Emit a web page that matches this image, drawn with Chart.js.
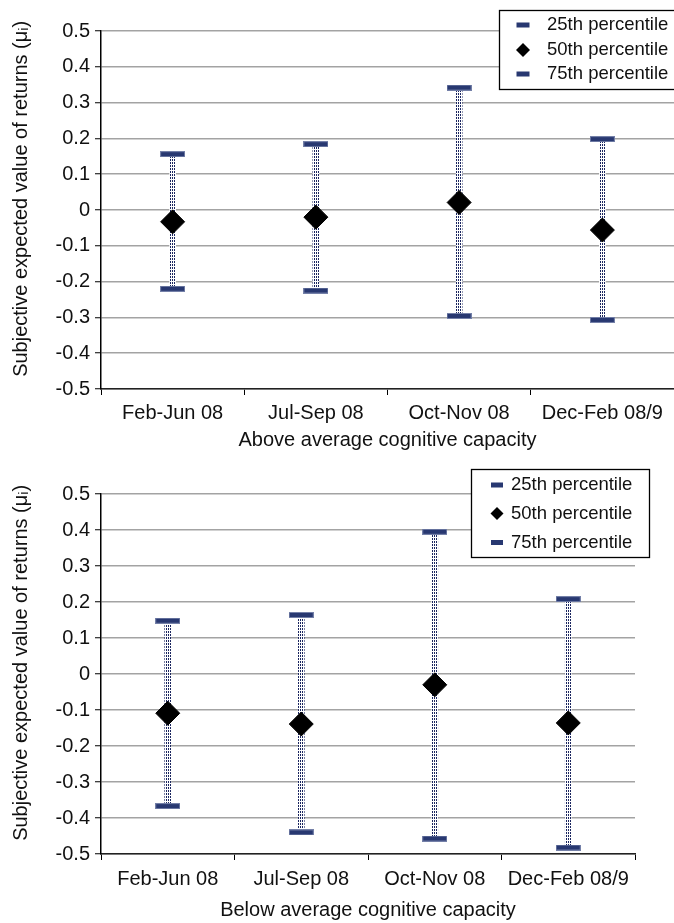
<!DOCTYPE html>
<html><head><meta charset="utf-8">
<script src="https://cdn.jsdelivr.net/npm/chart.js@4/dist/chart.umd.min.js"></script>
<style>
html,body{margin:0;padding:0;background:#fff;width:674px;height:923px;overflow:hidden}
canvas{position:absolute;left:0}
#c1{top:0}
#c2{top:460px}
</style></head><body>
<canvas id="c1" width="674" height="462"></canvas>
<canvas id="c2" width="674" height="463"></canvas>
<script>
// ---- data ----
const categories = ['Feb-Jun 08', 'Jul-Sep 08', 'Oct-Nov 08', 'Dec-Feb 08/9'];
const seriesNames = ['25th percentile', '50th percentile', '75th percentile'];
const yTickValues = [-0.5, -0.4, -0.3, -0.2, -0.1, 0, 0.1, 0.2, 0.3, 0.4, 0.5];
const yTickLabels = ['-0.5', '-0.4', '-0.3', '-0.2', '-0.1', '0', '0.1', '0.2', '0.3', '0.4', '0.5'];
const yAxisTitle = '    Subjective expected value of returns (\u03bc\u1d62)';

const aboveTitle = 'Above average cognitive capacity';
const above25 = [-0.220, -0.225, -0.296, -0.307];
const above50 = [-0.033, -0.020, 0.021, -0.056];
const above75 = [0.156, 0.184, 0.342, 0.198];

const belowTitle = 'Below average cognitive capacity';
const below25 = [-0.367, -0.440, -0.457, -0.482];
const below50 = [-0.109, -0.139, -0.030, -0.136];
const below75 = [0.148, 0.164, 0.395, 0.208];

// ---- styles ----
Chart.defaults.font.family = "'Liberation Sans', Arial, sans-serif";
Chart.defaults.font.size = 20;
Chart.defaults.color = '#111';
Chart.defaults.animation = false;

const NAVY = '#283871';
function markerCanvas(w, h) {
  const c = document.createElement('canvas');
  c.width = w; c.height = h;
  const x = c.getContext('2d');
  x.fillStyle = '#7480a8'; x.fillRect(0, 0, w, h);
  x.fillStyle = NAVY; x.fillRect(1, 1, w - 2, h - 2);
  return c;
}
function hiloPattern() {
  const c = document.createElement('canvas');
  c.width = 2; c.height = 3;
  const x = c.getContext('2d');
  x.fillStyle = '#ffffff'; x.fillRect(0, 0, 2, 3);
  x.fillStyle = '#1c2760'; x.fillRect(0, 0, 1, 2);
  return x.createPattern(c, 'repeat');
}
const bigMarker = markerCanvas(25, 6);
const pattern = hiloPattern();

function makeDatasets(q25, q50, q75) {
  return [
    { type: 'bar', label: 'range', data: q25.map((v, i) => [v, q75[i]]),
      backgroundColor: pattern, borderWidth: 0, barThickness: 6, order: 4 },
    { type: 'line', label: seriesNames[0], data: q25, showLine: false,
      pointStyle: bigMarker, pointRadius: 12, pointHoverRadius: 12, order: 2, legendKind: 'bar', clip: false },
    { type: 'line', label: seriesNames[1], data: q50, showLine: false,
      pointStyle: 'rectRot', pointRadius: 12, pointHoverRadius: 12,
      pointBackgroundColor: '#000', pointBorderColor: '#000', pointBorderWidth: 1, order: 1, legendKind: 'diamond', clip: false },
    { type: 'line', label: seriesNames[2], data: q75, showLine: false,
      pointStyle: bigMarker, pointRadius: 12, pointHoverRadius: 12, order: 2, legendKind: 'bar', clip: false }
  ];
}

const boxLegend = {
  id: 'boxLegend',
  afterDraw(chart, args, o) {
    const ctx = chart.ctx;
    ctx.save();
    ctx.fillStyle = '#fff';
    ctx.fillRect(o.x, o.y, o.w, o.h);
    ctx.strokeStyle = '#000'; ctx.lineWidth = 1.3;
    ctx.strokeRect(o.x + 0.5, o.y + 0.5, o.w, o.h);
    ctx.font = o.fontSize + "px 'Liberation Sans', Arial, sans-serif";
    ctx.textBaseline = 'middle'; ctx.textAlign = 'left'; ctx.fillStyle = '#111';
    const items = chart.data.datasets.filter(d => d.legendKind);
    items.forEach((d, i) => {
      const cy = o.rows[i];
      if (d.legendKind === 'bar') {
        ctx.fillStyle = NAVY;
        ctx.fillRect(o.markerX - o.mw / 2, cy - 2.5, o.mw, 5);
      } else {
        const r = o.dr;
        ctx.fillStyle = '#000';
        ctx.beginPath();
        ctx.moveTo(o.markerX - r, cy); ctx.lineTo(o.markerX, cy - r);
        ctx.lineTo(o.markerX + r, cy); ctx.lineTo(o.markerX, cy + r);
        ctx.closePath(); ctx.fill();
      }
      ctx.fillStyle = '#111';
      ctx.fillText(d.label, o.textX, cy);
    });
    ctx.restore();
  }
};

function makeChart(id, q25, q50, q75, xTitle, layout, legendOpts) {
  return new Chart(document.getElementById(id), {
    type: 'bar',
    data: { labels: categories, datasets: makeDatasets(q25, q50, q75) },
    plugins: [boxLegend],
    options: {
      responsive: false,
      devicePixelRatio: 1,
      layout: { padding: layout.padding, autoPadding: false },
      plugins: { legend: { display: false }, tooltip: { enabled: false }, boxLegend: legendOpts },
      scales: {
        x: {
          type: 'category', offset: true,
          grid: { display: true, drawOnChartArea: false, offset: true, tickLength: 6, color: '#000', lineWidth: 1 },
          border: { display: true, color: '#222', width: 1.5 },
          ticks: { padding: layout.xTickPad, maxRotation: 0, autoSkip: false, color: '#111' },
          title: { display: true, text: xTitle, color: '#111', padding: { top: 4, bottom: layout.xTitlePadBottom } },
          afterFit(s) { s.height = layout.xHeight; s.paddingLeft = 0; s.paddingRight = 0; }
        },
        y: {
          type: 'linear', min: -0.5, max: 0.5,
          afterBuildTicks(s) { s.ticks = yTickValues.map(v => ({ value: v })); },
          ticks: { padding: 5, color: '#111',
            callback: (v) => { const i = yTickValues.findIndex(t => Math.abs(t - v) < 1e-9); return i >= 0 ? yTickLabels[i] : ''; } },
          grid: { color: '#a3a3a3', lineWidth: 1.5, tickColor: '#000', tickLength: 6, tickWidth: 1 },
          border: { display: true, color: '#000', width: 1.5 },
          title: { display: true, text: yAxisTitle, color: '#111', padding: { top: 9, bottom: 0 } },
          afterFit(s) { s.width = 101; }
        }
      }
    }
  });
}

makeChart('c1', above25, above50, above75, aboveTitle,
  { padding: { top: 31, right: 0, bottom: 6, left: 0 }, xHeight: 67, xTickPad: 6, xTitlePadBottom: 4 },
  { x: 499, y: 10, w: 190, h: 79, rows: [25, 50, 74], markerX: 523, textX: 547, mw: 13, dr: 7, fontSize: 18.5 });

makeChart('c2', below25, below50, below75, belowTitle,
  { padding: { top: 34, right: 39, bottom: 0, left: 0 }, xHeight: 69, xTickPad: 7, xTitlePadBottom: 1 },
  { x: 471, y: 9, w: 178, h: 88, rows: [25, 53.5, 82.5], markerX: 497, textX: 511, mw: 12, dr: 6.5, fontSize: 18.5 });
</script>
</body></html>
